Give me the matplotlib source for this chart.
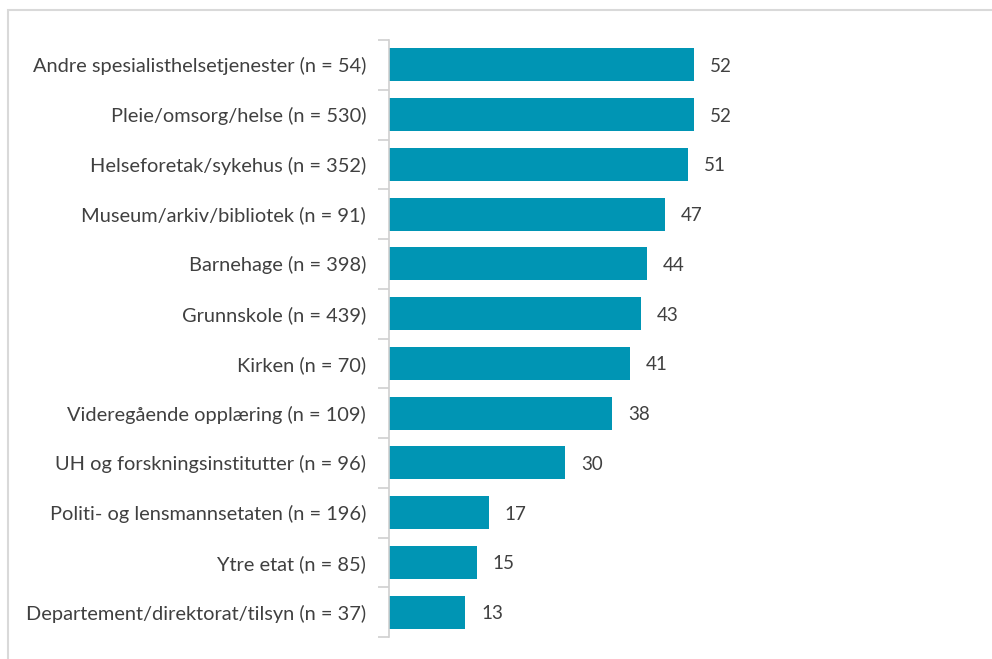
import matplotlib.pyplot as plt
from matplotlib.patches import Rectangle
import numpy as np

categories = [
    "Andre spesialisthelsetjenester (n = 54)",
    "Pleie/omsorg/helse (n = 530)",
    "Helseforetak/sykehus (n = 352)",
    "Museum/arkiv/bibliotek (n = 91)",
    "Barnehage (n = 398)",
    "Grunnskole (n = 439)",
    "Kirken (n = 70)",
    "Videregående opplæring (n = 109)",
    "UH og forskningsinstitutter (n = 96)",
    "Politi- og lensmannsetaten (n = 196)",
    "Ytre etat (n = 85)",
    "Departement/direktorat/tilsyn (n = 37)",
]
values = [52, 52, 51, 47, 44, 43, 41, 38, 30, 17, 15, 13]

BAR = "#0095b4"
TEXT = "#404040"
GRID = "#d0d0d0"

plt.rcParams['font.family'] = ['Lato', 'DejaVu Sans']

fig = plt.figure(figsize=(9.92, 6.59), dpi=100)
# light frame around the chart area
fig.patches.append(Rectangle((8 / 992, -0.1), 1.2, 1 - 10 / 659 + 0.1,
                             transform=fig.transFigure, fill=False,
                             edgecolor="#d9d9d9", linewidth=1.5))

ax = fig.add_axes([389 / 992, 22 / 659, 571 / 992, 597 / 659])
y = np.arange(len(categories))
ax.barh(y, values, height=0.66, color=BAR)
ax.set_ylim(len(categories) - 0.5, -0.5)
ax.set_xlim(0, 571 / 5.87)

for yi, v in zip(y, values):
    ax.text(v + 2.7, yi, str(v), va="center_baseline", ha="left",
            fontsize=13.5, color=TEXT)

ax.set_yticks(y)
ax.set_yticklabels(categories, fontsize=14.4, color=TEXT)
for lab in ax.get_yticklabels():
    lab.set_verticalalignment("center_baseline")
ax.set_yticks(np.arange(-0.5, len(categories)), minor=True)
ax.tick_params(axis="y", which="major", length=0, pad=16.5)
ax.tick_params(axis="y", which="minor", length=8, color=GRID, width=1.2)
ax.set_xticks([])
for side in ["top", "right", "bottom"]:
    ax.spines[side].set_visible(False)
ax.spines["left"].set_color(GRID)
ax.spines["left"].set_linewidth(1.2)

fig.savefig("out.png", dpi=100)
